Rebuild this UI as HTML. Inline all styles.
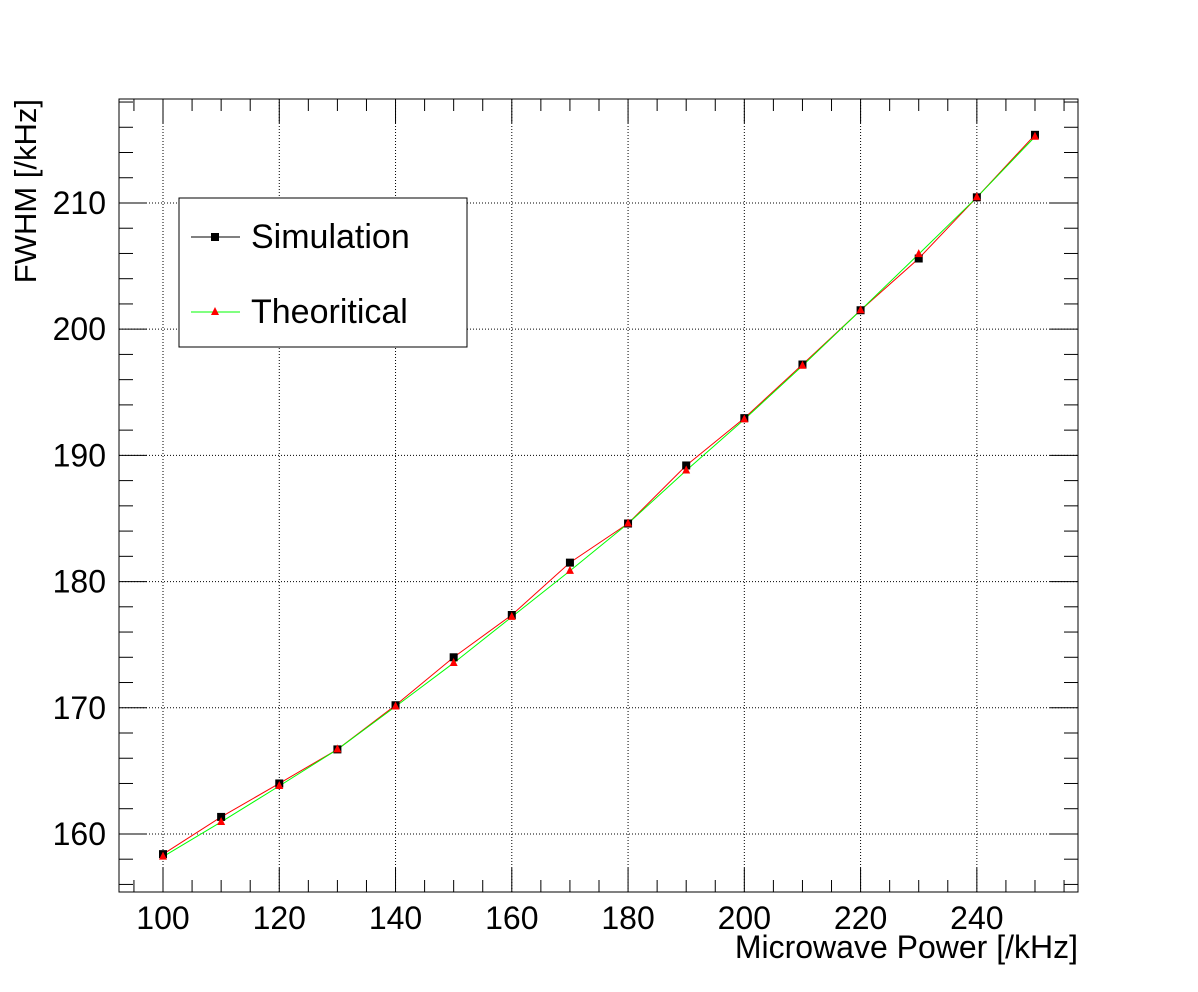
<!DOCTYPE html>
<html><head><meta charset="utf-8"><style>
html,body{margin:0;padding:0;background:#fff;}
svg{display:block;font-family:"Liberation Sans",Arial,sans-serif;}
</style></head><body>
<svg id="chart" width="1198" height="992">
<rect x="0" y="0" width="1198" height="992" fill="#fff"/>
<g id="grid"></g>
<g id="ticks"></g>
<g id="series"></g>
<rect x="119" y="99" width="959" height="793" fill="none" stroke="#000" stroke-width="1"/>
<text x="1078" y="958" font-size="32" text-anchor="end">Microwave Power [/kHz]</text>
<text transform="translate(36,99) rotate(-90)" font-size="31" text-anchor="end">FWHM [/kHz]</text>
<g>
<rect x="179" y="198" width="288" height="149" fill="#fff" stroke="#000" stroke-width="1"/>
<line x1="191" y1="237" x2="240" y2="237" stroke="#000"/>
<rect x="211" y="233" width="8" height="8" fill="#000"/>
<text x="251" y="248" font-size="34">Simulation</text>
<line x1="191" y1="312" x2="240" y2="312" stroke="#0f0"/>
<polygon points="215,307 219,315 211,315" fill="#f00"/>
<text x="251" y="323" font-size="34">Theoritical</text>
</g>
</svg>
<script>
const xValues=[100,110,120,130,140,150,160,170,180,190,200,210,220,230,240,250];
const simValues=[158.4,161.35,164.0,166.7,170.2,174.0,177.35,181.5,184.6,189.2,192.95,197.2,201.5,205.6,210.45,215.4];
const theoValues=[158.2,160.95,163.8,166.7,170.1,173.55,177.2,180.85,184.6,188.8,192.85,197.1,201.5,205.95,210.45,215.25];
const xTickLabels=[100,120,140,160,180,200,220,240];
const yTickLabels=[160,170,180,190,200,210];
const X0=119,X1=1078,Y0=892,Y1=99,XMIN=92.43,XMAX=257.4,YMIN=155.4,YMAX=218.24;
const sx=v=>X0+(v-XMIN)/(XMAX-XMIN)*(X1-X0);
const sy=v=>Y0-(v-YMIN)/(YMAX-YMIN)*(Y0-Y1);
const NS="http://www.w3.org/2000/svg";
function mk(t,a,p){const e=document.createElementNS(NS,t);for(const k in a)e.setAttribute(k,a[k]);p.appendChild(e);return e;}
const grid=document.getElementById('grid'),ticks=document.getElementById('ticks'),ser=document.getElementById('series');
xTickLabels.forEach(v=>{const x=sx(v);
 const g=mk('line',{x1:x,y1:Y1,x2:x,y2:Y0,stroke:'#000','stroke-dasharray':'1,2','stroke-width':1},grid);
 
 
 const t=mk('text',{x:x,y:929,'font-size':32,'text-anchor':'middle'},ticks);t.textContent=v;
 
 
});
for(let v=95;v<=255;v+=5){const x=sx(v);const len=(v%20==0)?24:12;
 mk('line',{x1:x,y1:Y0,x2:x,y2:Y0-len,stroke:'#000'},ticks);
 mk('line',{x1:x,y1:Y1,x2:x,y2:Y1+len,stroke:'#000'},ticks);}
yTickLabels.forEach(v=>{const y=sy(v);
 const g=mk('line',{x1:X0,y1:y,x2:X1,y2:y,stroke:'#000','stroke-dasharray':'1,2','stroke-width':1},grid);
 
 
 const t=mk('text',{x:106,y:y+11,'font-size':32,'text-anchor':'end'},ticks);t.textContent=v;
 
 
});
for(let v=156;v<=218;v+=2){const y=sy(v);const len=(v%10==0)?28:14;
 mk('line',{x1:X0,y1:y,x2:X0+len,y2:y,stroke:'#000'},ticks);
 mk('line',{x1:X1,y1:y,x2:X1-len,y2:y,stroke:'#000'},ticks);}
const sp=xValues.map((x,i)=>sx(x)+','+sy(simValues[i])).join(' ');
const tp=xValues.map((x,i)=>sx(x)+','+sy(theoValues[i])).join(' ');
const l1=mk('polyline',{points:sp,fill:'none',stroke:'#f00','stroke-width':1},ser);


const l2=mk('polyline',{points:tp,fill:'none',stroke:'#0f0','stroke-width':1},ser);


xValues.forEach((x,i)=>{const px=sx(x),py=sy(simValues[i]);
 const r=mk('rect',{x:px-4,y:py-4,width:8,height:8,fill:'#000'},ser);
 
 
});
xValues.forEach((x,i)=>{const px=sx(x),py=sy(theoValues[i]);
 const p=mk('polygon',{points:`${px},${py-5} ${px+4},${py+3} ${px-4},${py+3}`,fill:'#f00'},ser);
 
 
});
</script>
</body></html>
